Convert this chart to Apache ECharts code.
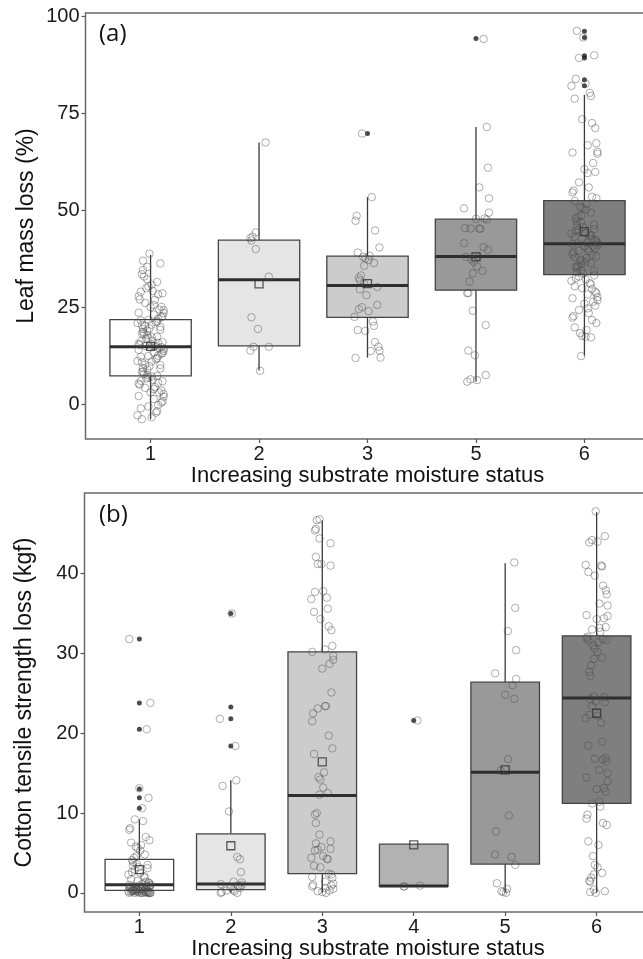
<!DOCTYPE html>
<html>
<head>
<meta charset="utf-8">
<script src="https://cdn.jsdelivr.net/npm/echarts@6/dist/echarts.min.js"></script>
<style>
html,body{margin:0;padding:0;background:#fff;}
#c{width:643px;height:959px;}
</style>
</head>
<body>
<div id="c"></div>
<script>
// ---------------- DATA ----------------
// Panel (a): leaf mass loss (%)
const catsA = ['1','2','3','5','6'];
// whisker low, Q1, median, Q3, whisker high
const boxA = [
  [-3.9, 7.3, 14.8, 21.8, 38.5],
  [8.7, 15.0, 32.1, 42.3, 67.5],
  [12.0, 22.4, 30.6, 38.2, 53.4],
  [5.8, 29.4, 38.1, 47.7, 71.5],
  [12.5, 33.4, 41.4, 52.5, 79.8]
];
const meanA = [14.9, 31.0, 31.1, 38.0, 44.5];
const outA = [[], [], [69.8], [94.3], [96.2, 94.6, 89.9, 89.3, 83.7, 82.1]];
const ptsA1 = [-3.9,-3.4,-2.9,-2.2,-1.8,-1.1,-0.6,-0.2,0.4,0.7,1.3,1.9,2.1,2.6,3.0,3.0,3.5,3.9,4.2,4.4,5.0,5.3,5.5,5.9,6.0,6.3,6.6,6.9,7.1,7.3,
  7.6,7.8,8.3,8.4,8.9,9.2,9.3,9.8,10.1,10.2,10.8,11.0,11.1,11.6,11.9,12.2,12.4,12.5,13.0,13.2,13.3,13.7,14.0,14.2,14.4,14.6,14.7,14.9,15.0,15.1,
  15.3,15.5,15.8,16.0,16.2,16.3,16.8,17.0,17.3,17.4,17.8,18.1,18.2,18.6,18.9,19.2,19.4,19.5,19.9,20.2,20.4,20.5,20.9,21.1,21.3,21.6,21.7,22.0,
  22.4,22.7,23.1,23.5,23.6,24.2,24.4,25.0,25.1,25.6,26.1,26.9,27.0,27.8,28.3,28.6,29.0,29.2,29.9,30.4,30.8,31.5,32.2,32.9,33.5,34.6,35.4,36.3,37.0,38.8];
const ptsA2 = [67.5,44.3,43.2,42.8,42.2,40.0,32.9,22.4,19.4,14.8,14.8,13.8,8.6];
const ptsA3 = [69.8,53.4,48.6,47.3,44.8,40.4,39.1,38.3,38.0,37.6,37.2,36.4,35.7,33.2,32.6,32.0,31.0,30.2,29.6,28.1,25.6,25.0,24.5,24.0,22.5,21.3,20.2,19.1,18.9,16.0,14.8,13.8,13.7,12.0,11.9];
const ptsA5 = [94.2,71.5,61.0,55.9,53.1,50.5,49.4,47.9,47.8,47.6,45.3,45.3,45.2,45.4,41.5,40.5,39.8,38.0,38.1,37.3,36.7,35.5,34.4,33.7,31.6,28.6,28.7,24.1,20.4,13.8,12.6,7.5,6.4,5.8,6.2];
const ptsA6 = [96.3,94.6,90.0,89.3,83.9,82.7,82.1,80.3,79.5,78.8,73.5,72.5,71.2,67.3,66.8,65.1,64.9,64.6,62.2,60.6,59.9,59.6,57.2,55.9,55.1,54.6,53.5,53.1,52.4,51.6,50.8,50.6,50.2,49.4,48.6,48.3,47.9,47.1,46.9,46.3,46.0,45.7,45.2,45.0,44.7,44.2,44.0,43.8,43.4,43.2,42.8,42.6,42.3,42.1,41.7,41.5,41.3,41.0,40.8,40.7,40.2,40.0,39.6,39.4,39.2,38.7,38.5,38.1,37.9,37.7,37.2,37.0,36.6,36.4,36.1,35.7,35.4,35.1,34.6,34.3,34.0,33.7,33.2,32.9,32.5,32.2,31.8,31.2,30.9,30.4,29.9,29.7,29.0,28.6,28.3,27.6,27.3,26.8,26.4,25.9,25.4,24.7,24.3,23.5,22.7,22.3,21.7,20.9,19.8,19.1,18.3,17.6,17.4,17.2,12.4];
const ptsA = [ptsA1, ptsA2, ptsA3, ptsA5, ptsA6];

// Panel (b): cotton tensile strength loss (kgf)
const catsB = ['1','2','3','4','5','6'];
const boxB = [
  [0.0, 0.3, 1.0, 4.2, 9.2],
  [0.0, 0.4, 1.1, 7.4, 14.1],
  [0.0, 2.4, 12.2, 30.2, 46.7],
  [0.8, 0.8, 0.85, 6.1, 6.1],
  [0.0, 3.6, 15.1, 26.4, 41.3],
  [0.0, 11.2, 24.4, 32.2, 47.7]
];
const meanB = [2.9, 5.9, 16.4, 6.0, 15.4, 22.5];
const outB = [[31.8,23.8,20.5,13.0,11.9,10.6], [35.0,23.3,21.8,18.4], [], [21.6], [], []];
const ptsB1 = [31.8,23.8,20.5,13.1,11.9,10.6,9.2,9.0,8.1,7.9,7.0,6.6,6.3,6.0,5.8,5.6,5.3,4.8,4.6,4.4,4.1,3.9,3.6,3.5,3.4,3.2,3.1,2.9,2.6,2.5,2.3,2.1,1.9,1.7,1.5,1.4,1.3,1.2,1.1,1.0,1.0,0.9,0.9,0.9,0.8,0.8,0.8,0.7,0.7,0.7,0.6,0.6,0.6,0.5,0.5,0.5,0.5,0.4,0.4,0.4,0.4,0.3,0.3,0.3,0.3,0.3,0.2,0.2,0.2,0.2,0.2,0.2,0.1,0.1,0.1,0.1,0.1,0.0,0.0,0.0,0.0,0.0,0.0,0.0,0.0,0.0,0.0];
const ptsB2 = [35.0,21.8,18.4,14.1,13.4,10.2,4.5,4.2,2.6,1.4,1.3,1.1,1.0,0.9,0.7,0.6,0.4,0.3,0.2,0.1,0.0,0.0];
const ptsB3 = [46.8,46.7,45.4,45.6,44.4,43.8,42.1,41.2,41.0,41.2,37.7,37.8,36.8,37.0,35.6,35.2,34.3,33.4,32.9,30.95,30.5,29.7,30.2,29.2,28.7,28.1,25.1,23.4,23.1,23.4,22.5,21.5,19.7,18.1,17.4,15.1,14.5,14.2,13.2,12.5,12.3,10.0,9.8,8.75,7.3,6.45,6.2,5.75,5.5,5.4,5.3,4.6,4.4,4.3,4.2,3.4,3.2,2.4,2.3,1.9,1.4,1.15,0.8,0.5,0.3,0.1,0.9,0.6,0.2,0.0,1.0,2.0];
const ptsB4 = [21.6,0.8,0.8,0.9];
const ptsB5 = [41.4,35.7,32.8,30.4,27.5,26.8,26.0,24.8,24.3,16.75,15.3,9.7,7.7,4.8,4.5,3.5,1.2,0.5,0.2,0.1,0.0];
const ptsB6 = [47.8,44.7,44.2,43.9,44.0,41.1,41.0,40.9,40.2,39.75,38.5,37.9,37.4,36.25,36.0,34.8,34.7,34.4,34.3,33.3,33.2,33.0,32.7,32.1,31.9,31.8,31.7,31.6,31.4,31.0,30.6,30.2,29.45,29.3,28.5,27.7,27.2,24.6,24.5,24.3,24.0,23.9,23.4,22.3,22.2,21.9,21.3,18.95,18.45,16.8,16.7,16.9,16.45,15.4,15.0,14.45,14.0,13.1,13.0,12.7,11.4,11.2,10.8,9.8,9.3,8.75,8.5,6.45,6.0,4.6,3.5,3.2,2.5,2.3,1.9,1.5,1.4,0.4,0.2,0.1,0.0];
const ptsB = [ptsB1, ptsB2, ptsB3, ptsB4, ptsB5, ptsB6];

// hand-typed jitter offsets (category units), cycled over points
const jitter = [0.03,-0.08,0.11,-0.02,0.06,-0.11,0.09,-0.05,0.01,-0.09,0.07,-0.03,0.12,-0.07,0.04,-0.12,0.02,0.10,-0.06,0.08,-0.01,-0.10,0.05,-0.04,0.11,-0.08,0.00,0.09,-0.11,0.06,-0.02,0.03,-0.07,0.10,-0.05,0.07,-0.09,0.01,0.12,-0.03];

const fillA = ['#ffffff','#e5e5e5','#cccccc','#999999','#7f7f7f'];
const fillB = ['#ffffff','#e5e5e5','#cccccc','#b2b2b2','#999999','#7f7f7f'];

// ---------------- BUILD ----------------
function boxData(box){ return box.map((b,i)=>[i+1].concat(b)); }
function jitterData(groups, seed){
  const out = [];
  groups.forEach((g,gi)=>{
    g.forEach((v,i)=>{ out.push([gi+1 + jitter[(i*7 + gi*3 + seed) % jitter.length], v]); });
  });
  return out;
}
function outData(groups){
  const out=[]; groups.forEach((g,gi)=>g.forEach(v=>out.push([gi+1, v]))); return out;
}
function meanData(m){ return m.map((v,i)=>[i+1, v]); }

function makeRender(fills){
  return function(params, api){
    const x = api.value(0);
    const lo=api.value(1), q1=api.value(2), md=api.value(3), q3=api.value(4), hi=api.value(5);
    const pLo=api.coord([x,lo]), pQ1=api.coord([x,q1]), pMd=api.coord([x,md]), pQ3=api.coord([x,q3]), pHi=api.coord([x,hi]);
    const hw = api.size([0.75,0])[0]/2;
    const cx = pMd[0];
    const stroke = '#3a3a3a';
    return {
      type:'group',
      children:[
        {type:'line', shape:{x1:cx,y1:pLo[1],x2:cx,y2:pQ1[1]}, style:{stroke:stroke,lineWidth:1.3}},
        {type:'line', shape:{x1:cx,y1:pQ3[1],x2:cx,y2:pHi[1]}, style:{stroke:stroke,lineWidth:1.3}},
        {type:'rect', shape:{x:cx-hw,y:pQ3[1],width:hw*2,height:pQ1[1]-pQ3[1]}, style:{fill:fills[params.dataIndex],stroke:'#444',lineWidth:1.3}},
        {type:'line', shape:{x1:cx-hw,y1:pMd[1],x2:cx+hw,y2:pMd[1]}, style:{stroke:'#2e2e2e',lineWidth:3}}
      ]
    };
  };
}

const font = 'Liberation Sans, Arial, sans-serif';
const tickCol = '#555';
function xAx(grid, cats, max){
  const vals = cats.map((c,i)=>i+1);
  return {
    type:'value', gridIndex:grid, min:0.4, max:max,
    name:'Increasing substrate moisture status', nameLocation:'middle', nameGap:23,
    nameTextStyle:{fontFamily:font,fontSize:22,color:'#111'},
    axisLine:{show:false,onZero:false},
    axisTick:{show:true,length:4,customValues:vals,lineStyle:{color:tickCol,width:1.2}},
    axisLabel:{customValues:vals,margin:5,fontFamily:font,fontSize:20,color:'#1a1a1a',formatter:v=>cats[Math.round(v)-1]},
    splitLine:{show:false}
  };
}
function yAx(grid, min, max, vals, name, gap){
  return {
    type:'value', gridIndex:grid, min:min, max:max,
    name:name, nameLocation:'middle', nameGap:gap, nameMoveOverlap:false,
    nameTextStyle:{fontFamily:font,fontSize:23,color:'#111'},
    axisLine:{show:false,onZero:false},
    axisTick:{show:true,length:4,customValues:vals,lineStyle:{color:tickCol,width:1.2}},
    axisLabel:{customValues:vals,margin:6,fontFamily:font,fontSize:20,color:'#1a1a1a'},
    splitLine:{show:false}
  };
}

const openStyle = {color:'rgba(0,0,0,0)', borderColor:'rgba(70,70,70,0.55)', borderWidth:1};
const series = [];
[[0, boxA, fillA, ptsA, outA, meanA, 1],[1, boxB, fillB, ptsB, outB, meanB, 5]].forEach(([g, box, fills, pts, outs, means, seed])=>{
  series.push({type:'custom', xAxisIndex:g, yAxisIndex:g, renderItem:makeRender(fills), data:boxData(box), encode:{x:0,y:[1,2,3,4,5]}, z:2, silent:true});
  series.push({type:'scatter', xAxisIndex:g, yAxisIndex:g, data:outData(outs), symbol:'circle', symbolSize:5, itemStyle:{color:'#1e1e1e'}, z:3, silent:true});
  series.push({type:'scatter', xAxisIndex:g, yAxisIndex:g, data:jitterData(pts, seed), symbol:'circle', symbolSize:7.5, itemStyle:openStyle, z:4, silent:true});
  series.push({type:'scatter', xAxisIndex:g, yAxisIndex:g, data:meanData(means), symbol:'rect', symbolSize:8, itemStyle:{color:'rgba(0,0,0,0)',borderColor:'#333',borderWidth:1.3}, z:5, silent:true});
});

const option = {
  animation:false,
  backgroundColor:'#fff',
  grid:[
    {left:85.5, top:13, height:426, width:564, outerBoundsMode:'none', containLabel:false, show:true, borderColor:'#6a6a6a', borderWidth:1.5, backgroundColor:'#fff'},
    {left:84.5, top:493, height:419, width:567, outerBoundsMode:'none', containLabel:false, show:true, borderColor:'#6a6a6a', borderWidth:1.5, backgroundColor:'#fff'}
  ],
  xAxis:[xAx(0, catsA, 5.6), xAx(1, catsB, 6.6)],
  yAxis:[
    yAx(0, -9.0, 100.9, [0,25,50,75,100], 'Leaf mass loss (%)', 47),
    yAx(1, -2.4, 50.1, [0,10,20,30,40], 'Cotton tensile strength loss (kgf)', 48)
  ],
  graphic:[
    {type:'text', left:99, top:22, style:{text:'(a)', fontFamily:'Open Sans, Noto Sans, sans-serif', fontSize:24, fill:'#111'}},
    {type:'text', left:99, top:503, style:{text:'(b)', fontFamily:'Open Sans, Noto Sans, sans-serif', fontSize:24, fill:'#111'}}
  ],
  series:series
};
const chart = echarts.init(document.getElementById('c'), null, {renderer:'canvas'});
chart.setOption(option);
</script>
</body>
</html>
